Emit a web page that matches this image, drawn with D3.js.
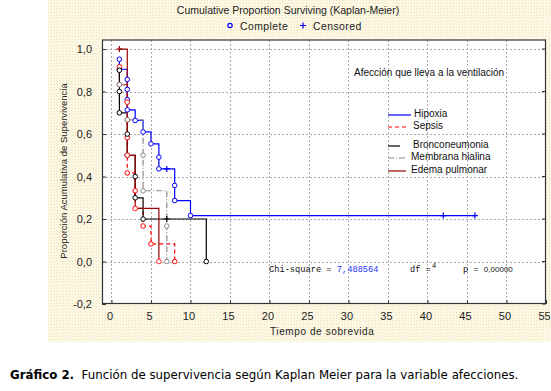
<!DOCTYPE html>
<html>
<head>
<meta charset="utf-8">
<script src="https://cdn.jsdelivr.net/npm/d3@7"></script>
<style>
  body { margin: 0; background: #fff; }
  svg { display: block; }
</style>
</head>
<body>
<svg id="chart" width="551" height="391"></svg>
<script>
// data: [time, proportion surviving, "c" complete | "+" censored]
const hipoxia = [
    [1, 0.952, "c"], [1, 0.905, "c"], [2, 0.857, "c"], [2, 0.810, "c"], [2, 0.762, "c"],
    [2, 0.714, "c"], [3, 0.664, "c"], [4, 0.610, "c"], [5, 0.554, "c"], [6, 0.491, "c"],
    [6, 0.436, "c"], [7, 0.436, "+"], [8, 0.358, "c"], [8, 0.287, "c"], [10, 0.216, "c"],
    [42, 0.216, "+"], [46, 0.216, "+"]
];
const sepsis = [
    [1, 0.917, "c"], [1, 0.833, "c"], [2, 0.750, "c"], [2, 0.667, "c"], [2, 0.583, "c"],
    [2, 0.500, "c"], [2, 0.417, "c"], [3, 0.333, "c"], [3, 0.250, "c"], [4, 0.167, "c"],
    [5, 0.083, "c"], [8, 0.000, "c"]
];
const bronconeumonia = [
    [1, 0.9, "c"], [1, 0.8, "c"], [1, 0.7, "c"], [2, 0.6, "c"], [2, 0.5, "c"],
    [3, 0.4, "c"], [3, 0.3, "c"], [4, 0.2, "c"], [7, 0.2, "+"], [12, 0.0, "c"]
];
const membranaHialina = [
    [1, 0.833, "c"], [2, 0.667, "c"], [4, 0.500, "c"], [4, 0.333, "c"], [7, 0.167, "c"],
    [7, 0.000, "c"]
];
const edemaPulmonar = [
    [1, 1.0, "+"], [2, 0.75, "c"], [2, 0.5, "c"], [3, 0.25, "c"], [6, 0.0, "c"]
];

const seriesNames = ["Hipoxia", "Sepsis", "Bronconeumonia", "Membrana hialina", "Edema pulmonar"];
const xTicks = [0, 5, 10, 15, 20, 25, 30, 35, 40, 45, 50, 55];
const yTicks = [-0.2, 0.0, 0.2, 0.4, 0.6, 0.8, 1.0];
const chiSquare = "7,488564";
const df = "4";
const pValue = "0,00000";

const series = [
    { name: seriesNames[0], data: hipoxia, color: "#0000ff", dash: null },
    { name: seriesNames[1], data: sepsis, color: "#ff0000", dash: "4,3" },
    { name: seriesNames[2], data: bronconeumonia, color: "#000000", dash: null },
    { name: seriesNames[3], data: membranaHialina, color: "#8a8a8a", dash: "6,2,1,2" },
    { name: seriesNames[4], data: edemaPulmonar, color: "#990000", dash: null }
];

const svg = d3.select("#chart");
const font = "'Liberation Sans', Arial, sans-serif";

// chart background (pale yellow dotted)
const defs = svg.append("defs");
const pat = defs.append("pattern")
    .attr("id", "dots")
    .attr("width", 3)
    .attr("height", 3)
    .attr("patternUnits", "userSpaceOnUse");
pat.append("rect").attr("width", 3).attr("height", 3).attr("fill", "#fffae6");
pat.append("rect").attr("x", 0).attr("y", 0).attr("width", 1).attr("height", 1).attr("fill", "#ece0bc");
pat.append("rect").attr("x", 2).attr("y", 2).attr("width", 1).attr("height", 1).attr("fill", "#f2e8d2");

svg.append("rect")
    .attr("x", 48).attr("y", 0)
    .attr("width", 503).attr("height", 342)
    .attr("fill", "url(#dots)");

const plot = { left: 102, right: 546, top: 39.5, bottom: 304 };

const x = d3.scaleLinear().domain([-1.2, 55]).range([plot.left, plot.right]);
const y = d3.scaleLinear().domain([-0.2, 1.045]).range([plot.bottom, plot.top]);

svg.append("rect")
    .attr("x", plot.left).attr("y", plot.top)
    .attr("width", plot.right - plot.left).attr("height", plot.bottom - plot.top)
    .attr("fill", "#fff");

// grid
const grid = svg.append("g").attr("stroke", "#aaa").attr("stroke-dasharray", "2,2").attr("shape-rendering", "crispEdges");
grid.selectAll("line.gx")
    .data(xTicks.filter(t => t < 55))
    .enter()
    .append("line")
    .attr("x1", d => Math.round(x(d)) + 0.5).attr("x2", d => Math.round(x(d)) + 0.5)
    .attr("y1", plot.top).attr("y2", plot.bottom);
grid.selectAll("line.gy")
    .data(yTicks.filter(t => t > -0.2))
    .enter()
    .append("line")
    .attr("y1", d => Math.round(y(d)) + 0.5).attr("y2", d => Math.round(y(d)) + 0.5)
    .attr("x1", plot.left).attr("x2", plot.right);

// axes (inward ticks)
const fmt = d => d3.format(".1f")(d).replace(".", ",").replace("−", "-");

const xAxis = svg.append("g")
    .attr("transform", `translate(0,${plot.bottom})`)
    .call(d3.axisBottom(x).tickValues(xTicks).tickSize(-4).tickPadding(8).tickSizeOuter(0));
const yAxis = svg.append("g")
    .attr("transform", `translate(${plot.left},0)`)
    .call(d3.axisLeft(y).tickValues(yTicks).tickFormat(fmt).tickSize(-4).tickPadding(10).tickSizeOuter(0));

[xAxis, yAxis].forEach(a => {
    a.select(".domain").remove();
    a.selectAll("line").attr("stroke", "#333");
    a.selectAll("text").attr("font-family", font).attr("font-size", 11).attr("fill", "#222");
});
// labels sit a little left of their ticks in the original
xAxis.selectAll("text").attr("dx", "-2");

// frame
svg.append("rect")
    .attr("x", plot.left + 0.5).attr("y", plot.top + 0.5)
    .attr("width", plot.right - plot.left - 1).attr("height", plot.bottom - plot.top - 1)
    .attr("fill", "none")
    .attr("stroke", "#333")
    .attr("stroke-width", 1.2);

// right axis ticks
svg.append("g").selectAll("line")
    .data(yTicks)
    .enter()
    .append("line")
    .attr("x1", plot.right - 4).attr("x2", plot.right)
    .attr("y1", d => y(d)).attr("y2", d => y(d))
    .attr("stroke", "#333");

// survival curves
const stepLine = d3.line()
    .x(d => x(d[0]))
    .y(d => y(d[1]))
    .curve(d3.curveStepAfter);

const curves = svg.append("g");
series.forEach(s => {
    curves.append("path")
        .attr("d", stepLine(s.data))
        .attr("fill", "none")
        .attr("stroke", s.color)
        .attr("stroke-width", 1.2)
        .attr("stroke-dasharray", s.dash);
});

series.forEach(s => {
    const g = curves.append("g");
    g.selectAll("circle")
        .data(s.data.filter(d => d[2] === "c"))
        .enter()
        .append("circle")
        .attr("cx", d => x(d[0]))
        .attr("cy", d => y(d[1]))
        .attr("r", 2.3)
        .attr("fill", "#fff")
        .attr("stroke", s.color === "#990000" ? "#ff3030" : s.color)
        .attr("stroke-width", 1);
    g.selectAll("path.cens")
        .data(s.data.filter(d => d[2] === "+"))
        .enter()
        .append("path")
        .attr("d", d => `M${x(d[0]) - 3},${y(d[1])}h6M${x(d[0])},${y(d[1]) - 3}v6`)
        .attr("stroke", s.color)
        .attr("stroke-width", 1.2);
});

// title and marker legend
svg.append("text")
    .attr("x", 288).attr("y", 14)
    .attr("text-anchor", "middle")
    .attr("font-family", font).attr("font-size", 10.5).attr("fill", "#222")
    .text("Cumulative Proportion Surviving (Kaplan-Meier)");

svg.append("circle").attr("cx", 230).attr("cy", 25.5).attr("r", 2.2)
    .attr("fill", "#fff").attr("stroke", "#0000ff").attr("stroke-width", 1.2);
svg.append("text").attr("x", 240).attr("y", 29.5)
    .attr("font-family", font).attr("font-size", 10.5).attr("fill", "#222").attr("letter-spacing", 0.4)
    .text("Complete");
svg.append("path").attr("d", "M300,25.5h6M303,22.5v6").attr("stroke", "#0000ff").attr("stroke-width", 1.2);
svg.append("text").attr("x", 313).attr("y", 29.5)
    .attr("font-family", font).attr("font-size", 10.5).attr("fill", "#222").attr("letter-spacing", 0.4)
    .text("Censored");

// axis titles
svg.append("text")
    .attr("transform", "translate(67,171) rotate(-90)")
    .attr("text-anchor", "middle")
    .attr("font-family", font).attr("font-size", 9.5).attr("fill", "#222")
    .text("Proporción Acumulativa de Supervivencia");

svg.append("text")
    .attr("x", 270).attr("y", 335)
    .attr("font-family", font).attr("font-size", 10).attr("fill", "#222").attr("letter-spacing", 0.6)
    .text("Tiempo de sobrevida");

// series legend inside the plot
svg.append("text")
    .attr("x", 354).attr("y", 76)
    .attr("font-family", font).attr("font-size", 10).attr("fill", "#111")
    .text("Afección que lleva a la ventilación");

const legendRows = [
    { y: 115, textX: 414, lineX2: 411 },
    { y: 127, textX: 413, lineX2: 408 },
    { y: 146, textX: 413, lineX2: 400 },
    { y: 158, textX: 411, lineX2: 407 },
    { y: 171, textX: 411, lineX2: 406 }
];
const legend = svg.append("g");
series.forEach((s, i) => {
    const row = legendRows[i];
    legend.append("line")
        .attr("x1", 388).attr("x2", row.lineX2)
        .attr("y1", row.y).attr("y2", row.y)
        .attr("stroke", s.color)
        .attr("stroke-width", 1.2)
        .attr("stroke-dasharray", s.dash);
    legend.append("text")
        .attr("x", row.textX).attr("y", row.y + 2)
        .attr("font-family", font).attr("font-size", 10).attr("fill", "#111")
        .text(s.name);
});

// test statistic
const mono = "'Liberation Mono', 'DejaVu Sans Mono', monospace";
const stat = svg.append("text")
    .attr("x", 269).attr("y", 272)
    .attr("font-family", mono).attr("font-size", 8.7).attr("fill", "#111");
stat.append("tspan").text("Chi-square = ");
stat.append("tspan").attr("fill", "#2233ff").text(chiSquare);

svg.append("text")
    .attr("x", 410).attr("y", 272)
    .attr("font-family", mono).attr("font-size", 8.7).attr("fill", "#111")
    .text("df =");
svg.append("text")
    .attr("x", 432).attr("y", 268)
    .attr("font-family", font).attr("font-size", 7.5).attr("fill", "#111")
    .text(df);
svg.append("text")
    .attr("x", 463).attr("y", 272)
    .attr("font-family", mono).attr("font-size", 8.7).attr("fill", "#111")
    .text("p = ")
    .append("tspan")
    .attr("font-family", font).attr("font-size", 8)
    .text(pValue);

// caption
const cap = svg.append("text")
    .attr("x", 10).attr("y", 379)
    .attr("font-family", "'DejaVu Sans', Verdana, sans-serif").attr("font-size", 11.8).attr("fill", "#000");
cap.append("tspan").attr("font-weight", "bold").text("Gráfico 2.");
cap.append("tspan").text("\u00a0 Función de supervivencia según Kaplan Meier para la variable afecciones.");
</script>
</body>
</html>
